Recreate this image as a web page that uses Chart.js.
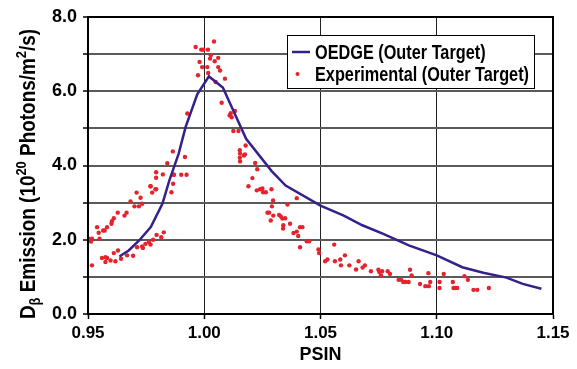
<!DOCTYPE html>
<html>
<head>
<meta charset="utf-8">
<script src="https://cdn.jsdelivr.net/npm/chart.js@4.4.0/dist/chart.umd.min.js"></script>
<style>
  html, body { margin: 0; padding: 0; background: #fff; }
  #wrap { width: 577px; height: 369px; }
</style>
</head>
<body>
<div id="wrap"><canvas id="myChart" width="577" height="369"></canvas></div>
<script>
// OEDGE model curve (outer target)
const oedgePsin = [0.9635, 0.9675, 0.972, 0.977, 0.982, 0.985, 0.989, 0.992, 0.997, 1.002, 1.008,
    1.018, 1.029, 1.035, 1.050, 1.060, 1.068, 1.077, 1.088, 1.100, 1.111, 1.120, 1.130, 1.137, 1.145];
const oedgeEmission = [1.55, 1.71, 1.98, 2.34, 2.97, 3.60, 4.32, 5.04, 5.92, 6.40, 6.10,
    4.72, 3.85, 3.46, 2.92, 2.65, 2.39, 2.16, 1.85, 1.58, 1.26, 1.11, 0.98, 0.81, 0.68];

// experimental points (outer target)
const expPsin = [
    0.9503, 0.9517, 0.9513, 0.9550, 0.9517, 0.9539, 0.9546, 0.9565, 0.9572, 0.9582,
    0.9601, 0.9603, 0.9611, 0.9628, 0.9657, 0.9666, 0.9683, 0.9700, 0.9719, 0.9733,
    0.9709, 0.9726, 0.9769, 0.9776, 0.9790, 0.9859, 0.9866,
    0.9560, 0.9575, 0.9582, 0.9597, 0.9575, 0.9618, 0.9611, 0.9629, 0.9642, 0.9668, 0.9694,
    0.9711, 0.9733, 0.9736, 0.9747, 0.9762, 0.9769, 0.9780, 0.9795, 0.9815, 0.9826,
    0.9793, 0.9793, 0.9822, 0.9869, 0.9901, 0.9924, 0.9869, 0.9769, 0.9793,
    0.9841, 0.9865, 0.9917, 0.9927,
    1.0042, 0.9963, 0.9987, 0.9996, 1.0016, 1.0028, 1.0025, 1.0060, 0.9980, 1.0045,
    0.9991, 1.0013, 1.0060, 1.0068, 1.0017, 0.9973, 1.0089, 1.0049, 1.0075,
    1.0132, 1.0114, 1.0109, 1.0118, 1.0125, 1.0147, 1.0178, 1.0153, 1.0154, 1.0171,
    1.0153, 1.0154, 1.0175, 1.0190,
    1.0219, 1.0228, 1.0207, 1.0226, 1.0240, 1.0250, 1.0253, 1.0265, 1.0289, 1.0296,
    1.0291, 1.0279, 1.0272, 1.0297, 1.0286, 1.0322, 1.0329, 1.0336, 1.0348, 1.0358,
    1.0398, 1.0340, 1.0339, 1.0369, 1.0384, 1.0398, 1.0404, 1.0412, 1.0422, 1.0412,
    1.0441, 1.0451, 1.0491,
    1.0494, 1.0559, 1.0520, 1.0530, 1.0562, 1.0585, 1.0588, 1.0605, 1.0624, 1.0653,
    1.0664, 1.0681, 1.0691, 1.0717, 1.0749, 1.0753, 1.0765, 1.0760, 1.0789, 1.0799,
    1.0836, 1.0847, 1.0856, 1.0865, 1.0879, 1.0885, 1.0892, 1.0928, 1.0951, 1.0966,
    1.0964, 1.0972,
    1.1030, 1.1012, 1.1012, 1.1069, 1.1072, 1.1080, 1.1088, 1.1119, 1.1134, 1.1158,
    1.1174, 1.1224
];
const expEmission = [
    2.03, 2.03, 1.95, 2.03, 1.31, 2.34, 2.19, 2.25, 2.25, 2.34,
    2.43, 2.50, 2.58, 2.73, 2.65, 2.73, 3.03, 2.90, 2.90, 2.97,
    3.27, 3.13, 3.44, 3.27, 3.36, 3.28, 3.51,
    1.51, 1.53, 1.51, 1.44, 1.40, 1.42, 1.64, 1.71, 1.49, 1.58, 1.57,
    1.80, 1.82, 1.78, 1.89, 1.94, 1.87, 2.00, 2.13, 2.07, 2.20,
    3.82, 3.67, 3.76, 3.75, 3.75, 3.75, 3.75, 3.44, 3.36,
    4.06, 4.38, 4.23, 5.40,
    7.34, 7.19, 7.12, 7.12, 7.12, 6.97, 6.88, 6.90, 6.79, 6.81,
    6.65, 6.65, 6.65, 6.56, 6.49, 6.43, 6.34, 6.25, 5.69,
    5.47, 5.41, 5.35, 5.30, 4.93, 4.93, 4.54, 4.41, 4.32, 4.27,
    4.21, 4.11, 4.30, 3.44,
    4.07, 3.90, 3.66, 3.33, 3.36, 3.38, 3.28, 3.28, 3.36, 3.06,
    2.90, 2.73, 2.73, 2.65, 2.52, 2.67, 2.63, 2.57, 2.58, 2.95,
    3.12, 2.39, 2.30, 2.43, 2.18, 2.22, 2.10, 2.34, 2.34, 1.80,
    1.96, 1.96, 1.74,
    1.64, 1.87, 1.42, 1.47, 1.42, 1.47, 1.31, 1.58, 1.31, 1.20,
    1.42, 1.25, 1.31, 1.15, 1.19, 1.13, 1.15, 1.04, 1.15, 1.08,
    0.92, 0.92, 0.86, 0.86, 0.86, 1.19, 1.04, 0.81, 0.75, 0.75,
    1.10, 0.86,
    1.08, 0.86, 0.70, 0.86, 0.70, 0.70, 0.70, 1.02, 0.92, 0.65,
    0.65, 0.70
];

const xTicks = [0.95, 1.00, 1.05, 1.10, 1.15];

const FONT = '"Liberation Sans", Arial, sans-serif';
const lineColor = '#35208c';
const dotColor = '#e5232d';

// y axis title with sub/superscripts, drawn rotated
const yTitleRuns = [
    { t: 'D', size: 22, dy: 0 },
    { t: 'β', size: 15, dy: 5 },
    { t: ' Emission (10', size: 22, dy: 0 },
    { t: '20', size: 15, dy: -9 },
    { t: ' Photons/m', size: 22, dy: 0 },
    { t: '2', size: 15, dy: -9 },
    { t: '/s)', size: 22, dy: 0 }
];

// draw text squeezed horizontally (the original uses a narrow typeface)
const narrowText = (ctx, text, x, y, sx) => {
    ctx.save();
    ctx.translate(x, y);
    ctx.scale(sx, 1);
    ctx.fillText(text, 0, 0);
    ctx.restore();
};

const extras = {
    id: 'extras',
    afterDraw(chart) {
        const ctx = chart.ctx;
        const a = chart.chartArea;
        ctx.save();
        // frame
        ctx.strokeStyle = '#000';
        ctx.lineWidth = 2;
        ctx.strokeRect(a.left, a.top, a.right - a.left, a.bottom - a.top);

        // y title
        const sx = 0.86;
        ctx.fillStyle = '#000';
        ctx.textBaseline = 'alphabetic';
        let total = 0;
        yTitleRuns.forEach(r => {
            ctx.font = 'bold ' + r.size + 'px ' + FONT;
            r.w = ctx.measureText(r.t).width * sx;
            total += r.w;
        });
        ctx.save();
        ctx.translate(35, 174);
        ctx.rotate(-Math.PI / 2);
        let x = -total / 2;
        yTitleRuns.forEach(r => {
            ctx.font = 'bold ' + r.size + 'px ' + FONT;
            narrowText(ctx, r.t, x, r.dy, sx);
            x += r.w;
        });
        ctx.restore();

        // legend box
        const ds = chart.data.datasets;
        ctx.fillStyle = '#fff';
        ctx.fillRect(287, 35, 248, 54);
        ctx.strokeStyle = '#000';
        ctx.lineWidth = 1;
        ctx.strokeRect(287.5, 35.5, 247, 53);
        ctx.strokeStyle = lineColor;
        ctx.lineWidth = 2.5;
        ctx.beginPath();
        ctx.moveTo(292, 52);
        ctx.lineTo(310, 52);
        ctx.stroke();
        ctx.fillStyle = dotColor;
        ctx.beginPath();
        ctx.arc(297.5, 74, 2, 0, Math.PI * 2);
        ctx.fill();
        ctx.fillStyle = '#000';
        ctx.font = 'bold 20px ' + FONT;
        const lw = ctx.measureText(ds[1].label).width;
        const lsx = 214 / lw;
        narrowText(ctx, ds[0].label, 315, 59, lsx);
        narrowText(ctx, ds[1].label, 315, 81, lsx);
        ctx.restore();
    }
};

const oedgeData = oedgePsin.map((p, i) => ({ x: p, y: oedgeEmission[i] }));
const expData = expPsin.map((p, i) => ({ x: p, y: expEmission[i] }));

const config = {
    type: 'scatter',
    data: {
        datasets: [{
            type: 'line',
            label: 'OEDGE (Outer Target)',
            data: oedgeData,
            borderColor: lineColor,
            borderWidth: 2.5,
            pointRadius: 0,
            tension: 0,
            order: 1
        }, {
            label: 'Experimental (Outer Target)',
            data: expData,
            backgroundColor: dotColor,
            borderWidth: 0,
            pointRadius: 2.2,
            order: 2
        }]
    },
    options: {
        responsive: false,
        animation: false,
        layout: { padding: { left: 0, top: 17, right: 24, bottom: 0 } },
        plugins: { legend: { display: false }, tooltip: { enabled: false } },
        scales: {
            x: {
                type: 'linear',
                min: 0.95,
                max: 1.15,
                afterBuildTicks: scale => { scale.ticks = xTicks.map(v => ({ value: v })); },
                afterFit: scale => { scale.height = 55; },
                ticks: {
                    color: '#000',
                    font: { family: FONT, size: 17, weight: 'bold' },
                    padding: 4,
                    maxRotation: 0,
                    callback: v => v.toFixed(2)
                },
                grid: { color: '#222', lineWidth: 1, tickLength: 5, tickColor: '#000', tickWidth: 1.5 },
                border: { color: '#000', width: 2 },
                title: {
                    display: true,
                    text: 'PSIN',
                    color: '#000',
                    font: { family: FONT, size: 18, weight: 'bold' },
                    padding: { top: 0, bottom: 3 }
                }
            },
            y: {
                min: 0,
                max: 8,
                afterFit: scale => { scale.width = 88; },
                ticks: {
                    stepSize: 1,
                    color: '#000',
                    font: { family: FONT, size: 18, weight: 'bold' },
                    padding: 6,
                    callback: v => (v % 2 === 0 ? v.toFixed(1) : '')
                },
                grid: { color: '#5a5a5a', lineWidth: 2, tickLength: 5, tickColor: '#000', tickWidth: 1.5 },
                border: { color: '#000', width: 2 }
            }
        }
    },
    plugins: [extras]
};

const myChart = new Chart(document.getElementById('myChart'), config);
</script>
</body>
</html>
